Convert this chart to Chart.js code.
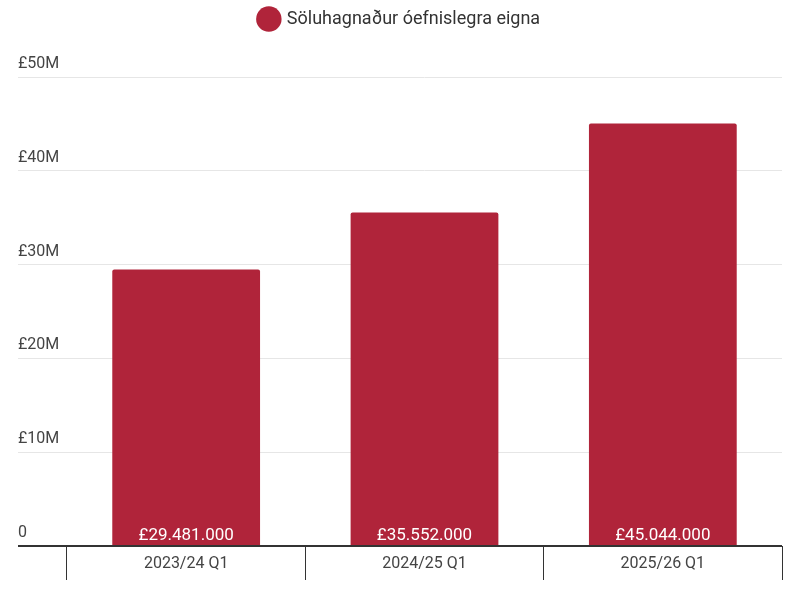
<!DOCTYPE html>
<html><head><meta charset="utf-8">
<script src="https://cdn.jsdelivr.net/npm/chart.js@4"></script>
<style>html,body{margin:0;padding:0;background:#fff}#w{width:800px;height:603px}</style>
</head><body><div id="w"><canvas id="c"></canvas></div>
<script>
const categories = ["2023/24 Q1","2024/25 Q1","2025/26 Q1"];
const seriesName = "Söluhagnaður óefnislegra eigna";
const values = [29481000, 35552000, 45044000];
const barColor = "#b0243a";
const fmt = v => "£" + v.toString().replace(/\B(?=(\d{3})+(?!\d))/g, ".");
const inside = {
  id:'inside',
  beforeInit(chart){
    const lg=chart.legend; if(!lg) return;
    const f=lg.fit; lg.fit=function(){f.call(this); this.height+=39;};
  },
  afterDatasetsDraw(chart){
    const ctx=chart.ctx, meta=chart.getDatasetMeta(0);
    ctx.save();ctx.fillStyle='#fff';ctx.font='17px Roboto';ctx.textAlign='center';ctx.textBaseline='alphabetic';
    meta.data.forEach((b,i)=>ctx.fillText(fmt(values[i]), b.x, b.base-5));
    ctx.fillStyle='#444';ctx.font='16px Roboto';ctx.textBaseline='middle';
    const xs=chart.scales.x;
    categories.forEach((c,i)=>ctx.fillText(c, xs.getPixelForTick(i), xs.top+18));
    ctx.restore();
  }
};
new Chart(document.getElementById('c'),{
  type:'bar',
  data:{labels:categories,datasets:[{label:seriesName,data:values,backgroundColor:barColor,borderRadius:2,borderSkipped:'bottom',barPercentage:0.62,categoryPercentage:1}]},
  options:{
    responsive:true,maintainAspectRatio:false,animation:false,
    layout:{padding:{left:18,right:18,top:0,bottom:23}},
    plugins:{
      legend:{labels:{usePointStyle:true,pointStyle:'circle',boxWidth:18,boxHeight:18,font:{family:'Roboto',size:18},color:'#333',padding:10}},
      tooltip:{enabled:false}
    },
    scales:{
      y:{min:0,max:50000000,
        afterFit(s){s.width=49;},
        border:{display:false},
        grid:{tickLength:49,color:c=>c.tick&&c.tick.value===0?'#333':'#e6e6e6',lineWidth:c=>c.tick&&c.tick.value===0?2:1},
        ticks:{stepSize:10000000,crossAlign:'far',labelOffset:-13,padding:0,color:'#444',font:{family:'Roboto',size:16},
          callback:v=>v===0?'0':'£'+(v/1000000)+'M'}
      },
      x:{
        afterFit(s){s.height=34;},
        border:{display:false},
        grid:{offset:true,drawOnChartArea:false,drawTicks:true,tickLength:34,color:'#333'},
        ticks:{color:'rgba(0,0,0,0)',font:{family:'Roboto',size:16},padding:0}
      }
    }
  },
  plugins:[inside]
});
</script></body></html>
